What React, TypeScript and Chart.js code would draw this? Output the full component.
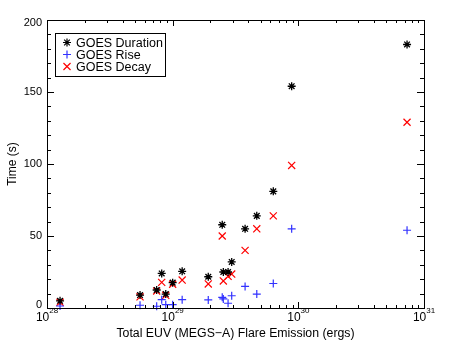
import React, { useEffect, useRef } from "react";
import { Chart, registerables } from "chart.js";

Chart.register(...registerables);

const emission = [1.27e28, 5.5e28, 7.46e28, 8.18e28, 8.81e28, 1.0e29, 1.19e29, 1.92e29, 2.48e29, 2.53e29, 2.76e29, 2.95e29, 3.77e29, 4.67e29, 6.32e29, 8.85e29, 7.33e30];
const duration = [5, 9, 12.5, 24, 9.7, 17.6, 25.5, 21.7, 57.8, 25, 25, 32, 55, 64, 81, 154, 183];
const rise = [1.4, 1.9, 1.2, 5.8, 2.3, 2.3, 5.8, 5.6, 7.4, 6.3, 3.3, 8.5, 15, 9.7, 17, 55, 54];
const decay = [4, 7.8, 11.8, 17.8, 8.8, 16.5, 19.4, 16.7, 50, 18.8, 22, 23.6, 40, 55, 64, 99, 129];

const seriesNames = ["GOES Duration", "GOES Rise", "GOES Decay"];
const yTicks = [0, 50, 100, 150, 200];
const xExponents = [28, 29, 30, 31];
const xTitle = "Total EUV (MEGS\u2212A) Flare Emission (ergs)";
const yTitle = "Time (s)";

const FONT = "'Liberation Sans', Arial, Helvetica, sans-serif";
const BLUE = "rgb(50,50,255)";
const RED = "rgb(255,0,0)";

const toPts = (ys: number[]) => emission.map((x, i) => ({ x, y: ys[i] }));

function drawMarker(ctx: CanvasRenderingContext2D, style: string, x: number, y: number, r: number) {
  ctx.beginPath();
  if (style === "cross" || style === "star") {
    ctx.moveTo(x - r, y);
    ctx.lineTo(x + r, y);
    ctx.moveTo(x, y - r);
    ctx.lineTo(x, y + r);
  }
  if (style === "crossRot" || style === "star") {
    const d = r * Math.SQRT1_2;
    ctx.moveTo(x - d, y - d);
    ctx.lineTo(x + d, y + d);
    ctx.moveTo(x - d, y + d);
    ctx.lineTo(x + d, y - d);
  }
  ctx.stroke();
}

const axesPlugin = {
  id: "idlAxes",
  afterDraw(chart: any) {
    const ctx = chart.ctx as CanvasRenderingContext2D;
    const { left, right, top, bottom } = chart.chartArea;
    const xs = chart.scales.x;
    const ys = chart.scales.y;
    ctx.save();
    ctx.strokeStyle = "#000";
    ctx.lineWidth = 1;
    ctx.strokeRect(Math.round(left) + 0.5, Math.round(top) + 0.5, Math.round(right - left), Math.round(bottom - top));

    const line = (x1: number, y1: number, x2: number, y2: number) => {
      ctx.beginPath();
      ctx.moveTo(x1, y1);
      ctx.lineTo(x2, y2);
      ctx.stroke();
    };
    for (let e = xExponents[0]; e < xExponents[xExponents.length - 1]; e++) {
      for (let m = 1; m <= 9; m++) {
        const px = Math.round(xs.getPixelForValue(m * Math.pow(10, e))) + 0.5;
        const len = m === 1 ? 6 : 3;
        line(px, bottom, px, bottom - len);
        line(px, top, px, top + len);
      }
    }
    for (let v = 0; v <= 200; v += 10) {
      const py = Math.round(ys.getPixelForValue(v)) + 0.5;
      const len = v % 50 === 0 ? 7 : 4;
      line(left, py, left + len, py);
      line(right, py, right - len, py);
    }
    ctx.fillStyle = "#000";
    ctx.font = `11px ${FONT}`;
    ctx.textAlign = "right";
    ctx.textBaseline = "middle";
    yTicks.forEach((v) => {
      let py = ys.getPixelForValue(v);
      if (v === 200) py += 3;
      if (v === 0) py -= 3;
      ctx.fillText(String(v), left - 5, py);
    });
    xExponents.forEach((e) => {
      const px = xs.getPixelForValue(Math.pow(10, e));
      ctx.font = `12px ${FONT}`;
      const w1 = ctx.measureText("10").width;
      ctx.font = `8px ${FONT}`;
      const w2 = ctx.measureText(String(e)).width;
      const start = px - (w1 + w2) / 2;
      ctx.textAlign = "left";
      ctx.textBaseline = "alphabetic";
      ctx.font = `12px ${FONT}`;
      ctx.fillText("10", start, bottom + 13);
      ctx.font = `8px ${FONT}`;
      ctx.fillText(String(e), start + w1, bottom + 4.5);
    });
    ctx.font = `12.3px ${FONT}`;
    ctx.textAlign = "center";
    ctx.textBaseline = "middle";
    ctx.fillText(xTitle, (left + right) / 2, bottom + 26);
    ctx.save();
    ctx.translate(13, (top + bottom) / 2);
    ctx.rotate(-Math.PI / 2);
    ctx.font = `12px ${FONT}`;
    ctx.fillText(yTitle, 0, 0);
    ctx.restore();

    const lx = 55, ly = 33, lw = 110, lh = 43;
    ctx.strokeStyle = "#000";
    ctx.lineWidth = 1;
    ctx.strokeRect(lx + 0.5, ly + 0.5, lw, lh);
    const styles = [
      { style: "star", color: "#000", r: 4 },
      { style: "cross", color: BLUE, r: 4 },
      { style: "crossRot", color: RED, r: 5 },
    ];
    ctx.font = `12.5px ${FONT}`;
    ctx.textAlign = "left";
    ctx.textBaseline = "middle";
    seriesNames.forEach((name, i) => {
      const cy = ly + 9.5 + i * 12;
      ctx.strokeStyle = styles[i].color;
      ctx.lineWidth = 1.2;
      drawMarker(ctx, styles[i].style, 67, cy, styles[i].r);
      ctx.fillStyle = "#000";
      ctx.fillText(name, 76, cy + 1);
    });
    ctx.restore();
  },
};

export default function App() {
  const ref = useRef<HTMLCanvasElement>(null);
  useEffect(() => {
    if (!ref.current) return;
    const chart = new Chart(ref.current, {
      type: "scatter",
      data: {
        datasets: [
          { label: seriesNames[0], data: toPts(duration), pointStyle: "star", radius: 4, borderColor: "#000", backgroundColor: "#000", borderWidth: 1.3, clip: false } as any,
          { label: seriesNames[1], data: toPts(rise), pointStyle: "cross", radius: 4, borderColor: BLUE, backgroundColor: BLUE, borderWidth: 1.2, clip: false } as any,
          { label: seriesNames[2], data: toPts(decay), pointStyle: "crossRot", radius: 5, borderColor: RED, backgroundColor: RED, borderWidth: 1.2, clip: false } as any,
        ],
      },
      options: {
        animation: false,
        responsive: false,
        layout: { padding: { left: 47, right: 51, top: 20, bottom: 42 } },
        plugins: { legend: { display: false }, tooltip: { enabled: false } },
        scales: {
          x: { type: "logarithmic", min: 1e28, max: 1e31, display: false },
          y: { type: "linear", min: 0, max: 200, display: false },
        },
      },
      plugins: [axesPlugin],
    });
    return () => chart.destroy();
  }, []);
  return (
    <div style={{ position: "fixed", left: 0, top: 0, width: 475, height: 350, background: "#fff" }}>
      <canvas ref={ref} width={475} height={350} style={{ width: 475, height: 350 }} />
    </div>
  );
}
